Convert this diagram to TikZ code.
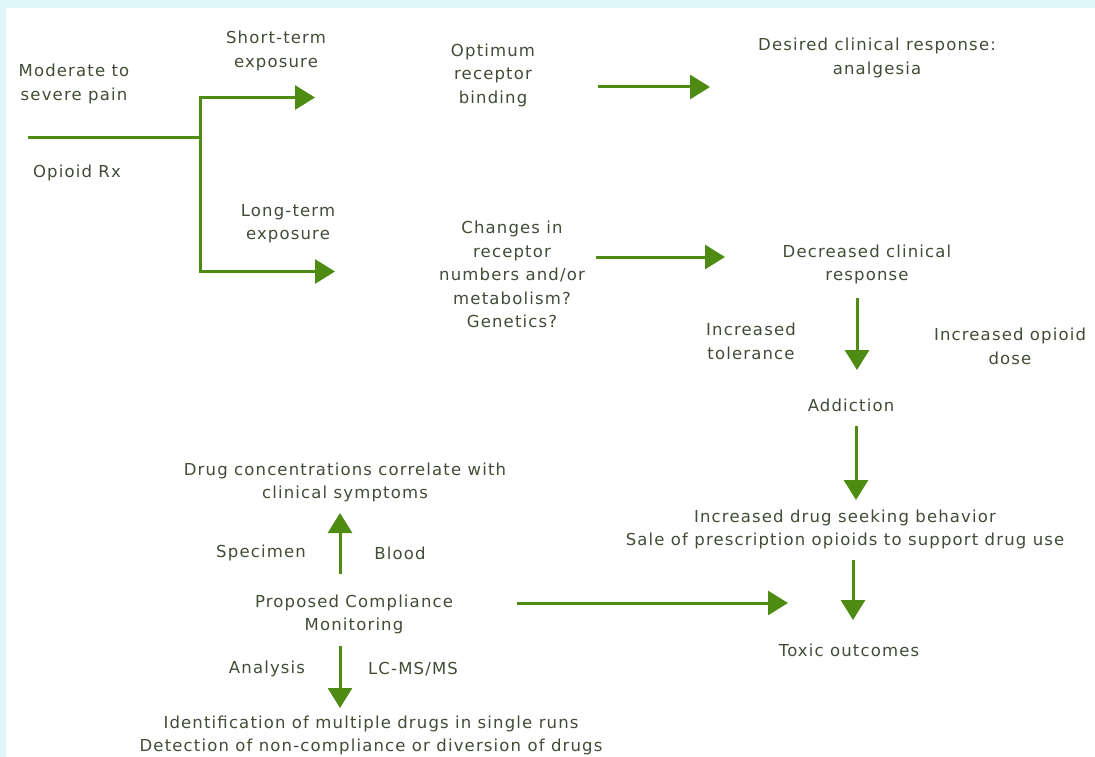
\documentclass[tikz,border=0pt]{standalone}
\usepackage{fontspec}
\setmainfont[LetterSpace=7]{DejaVu Sans}
\usetikzlibrary{arrows.meta}
\definecolor{4d8b12}{HTML}{4d8b12}
\definecolor{44503a}{HTML}{424c36}
\definecolor{e0f7fa}{HTML}{e0f7fa}
\begin{document}
\begin{tikzpicture}[x=1pt,y=-1pt,>={Triangle[length=20pt,width=24pt]},
    every node/.style={text=44503a,align=center,inner sep=0,yshift=-1.5pt,font=\fontsize{16.5}{23.5}\selectfont},
    flow/.style={->,4d8b12,line width=3pt}]
    \fill[e0f7fa](0,0)rectangle(1095,757);
    \fill[white](6,8)rectangle(1095,757);
    \useasboundingbox(0,0)rectangle(1095,757);
    \node(pain)at(74,82.5){Moderate to\\severe pain};
    \node(rx)at(77,171){Opioid Rx};
    \node(short)at(276,49.5){Short-term\\exposure};
    \node(long)at(288,222){Long-term\\exposure};
    \node(binding)at(493,73.5){Optimum\\receptor\\binding};
    \node(desired)at(877,56.5){Desired clinical response:\\analgesia};
    \node(changes)at(512,273){Changes in\\receptor\\numbers and/or\\metabolism?\\Genetics?};
    \node(decreased)at(867,263){Decreased clinical\\response};
    \node(tolerance)at(751,340){Increased\\tolerance};
    \node(dose)at(1010,345){Increased opioid\\dose};
    \node(addiction)at(851,404){Addiction};
    \node(seeking)at(845,528){Increased drug seeking behavior\\Sale of prescription opioids to support drug use};
    \node(toxic)at(849,649){Toxic outcomes};
    \node(monitoring)at(354,613){Proposed Compliance\\Monitoring};
    \node(correlate)at(345,481){Drug concentrations correlate with\\clinical symptoms};
    \node(specimen)at(261,551){Specimen};
    \node(blood)at(400,552){Blood};
    \node(analysis)at(267,667){Analysis};
    \node(lcms)at(413,668){LC-MS/MS};
    \node(ident)at(371,734){Identification of multiple drugs in single runs\\Detection of non-compliance or diversion of drugs};
    \coordinate(rxstart)at(28,136);
    \coordinate(fork)at(200,136);
    \coordinate(shortend)at(315,96);
    \coordinate(longend)at(335,270);
    \draw[4d8b12,line width=3pt](rxstart)--(fork);
    \draw[flow](fork)|-(shortend);
    \draw[flow](fork)|-(longend);
    \draw[flow](598,87)coordinate(a1)--(710,87)coordinate(b1);
    \draw[flow](596,257)coordinate(a2)--(725,257)coordinate(b2);
    \draw[flow](857,298)coordinate(a3)--(857,370)coordinate(b3);
    \draw[flow](856,426)coordinate(a4)--(856,500)coordinate(b4);
    \draw[flow](853,560)coordinate(a5)--(853,620)coordinate(b5);
    \draw[flow](517,603)coordinate(a6)--(788,603)coordinate(b6);
    \draw[flow](340,574)coordinate(a7)--(340,513)coordinate(b7);
    \draw[flow](340,646)coordinate(a8)--(340,708)coordinate(b8);
\end{tikzpicture}
\end{document}
